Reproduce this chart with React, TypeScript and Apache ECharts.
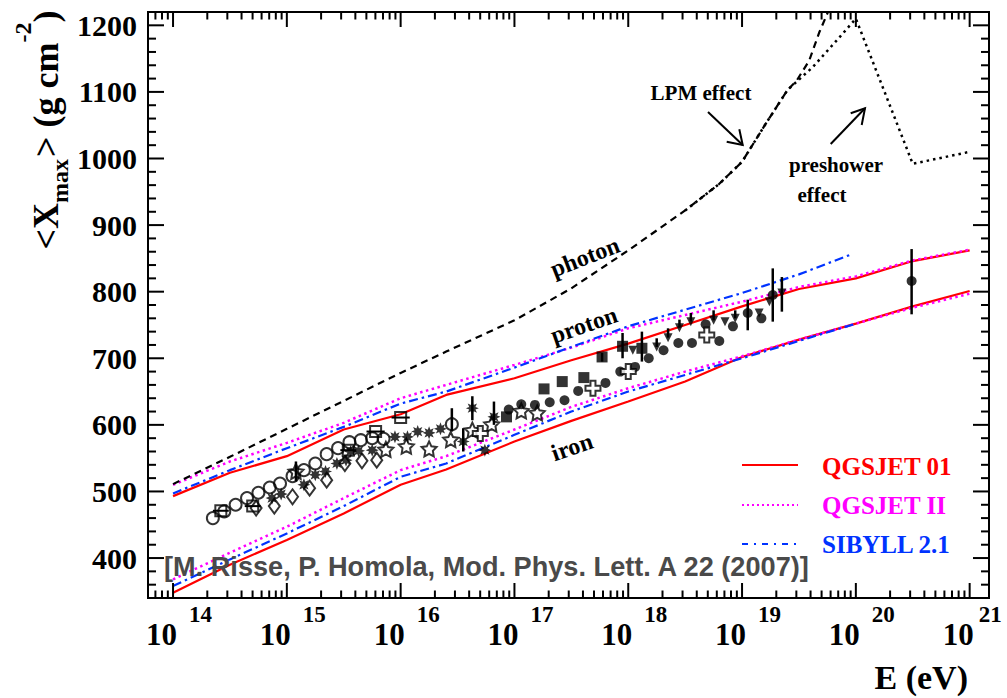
import React, { useEffect, useRef } from 'react';
import * as echarts from 'echarts';

// ---------- axis ranges & ticks ----------
const X_MIN = 13.78; // log10(E/eV)
const X_MAX = 21.17;
const Y_MIN = 340;
const Y_MAX = 1220;
const xDecades = [14, 15, 16, 17, 18, 19, 20, 21];
const yStep = 20;

// ---------- model curves (log10 E, <Xmax>) ----------
const qgs01Proton = [[14, 493], [14.5, 528], [15, 553], [15.5, 593], [16, 616], [16.4, 645], [17, 670], [17.5, 697], [18, 722], [18.5, 750], [19, 778], [19.5, 804], [20, 820], [20.5, 846], [21, 862]];
const qgs01Iron = [[14, 348], [14.5, 390], [15, 427], [15.5, 467], [16, 510], [16.4, 533], [17, 575], [17.5, 606], [18, 635], [18.5, 665], [19, 702], [19.5, 728], [20, 752], [20.5, 778], [21, 801]];
const qgs2Proton = [[14, 510], [14.5, 545], [15, 573], [15.5, 603], [16, 640], [16.4, 660], [17, 690], [17.5, 716], [18, 745], [18.5, 765], [19, 785], [19.5, 807], [20, 823], [20.5, 847], [21, 863]];
const qgs2Iron = [[14, 368], [14.5, 408], [15, 447], [15.5, 490], [16, 532], [16.4, 553], [17, 593], [17.5, 627], [18, 655], [18.5, 680], [19, 703], [19.5, 728], [20, 752], [20.5, 776], [21, 797]];
const sibProton = [[14, 497], [14.5, 532], [15, 565], [15.5, 597], [16, 632], [16.4, 650], [17, 686], [17.5, 717], [18, 748], [18.5, 773], [19, 798], [19.5, 826], [19.96, 856]];
const sibIron = [[14, 358], [14.5, 398], [15, 437], [15.5, 478], [16, 522], [16.4, 542], [17, 585], [17.5, 620], [18, 650], [18.5, 675], [19, 700], [19.5, 726], [20, 752]];
const photonLPM = [[14, 511], [14.5, 552], [15, 594], [15.5, 636], [16, 678], [16.4, 710], [17, 757], [17.5, 805], [18, 862], [18.5, 922], [18.8, 962], [19, 995], [19.2, 1050], [19.4, 1103], [19.48, 1117], [19.59, 1147], [19.68, 1190], [19.76, 1222]];
const photonPreshower = [[18.5, 922], [18.8, 962], [19, 995], [19.2, 1050], [19.4, 1103], [19.62, 1137], [19.83, 1177], [20, 1210], [20.5, 992], [21, 1010]];

// ---------- measurements ----------
const openCircles = [[14.35, 460], [14.45, 470], [14.55, 480], [14.65, 490], [14.75, 498], [14.85, 506], [14.94, 512], [15.05, 523], [15.15, 532], [15.25, 542], [15.35, 556], [15.45, 565], [15.55, 574], [15.65, 577], [15.75, 580], [15.85, 579], [16.45, 601]];
const openSquares = [[14.42, 471], [14.7, 478], [15.54, 562], [15.78, 590], [16.0, 611]];
const openDiamonds = [[14.73, 475], [14.89, 478], [15.05, 492], [15.2, 505], [15.35, 517], [15.51, 542], [15.66, 546], [15.79, 547]];
const openStars = [[15.08, 530], [15.87, 563], [16.05, 568], [16.25, 564], [16.44, 578], [16.63, 592], [16.8, 601], [17.06, 621], [17.2, 618]];
const asterisks = [[14.87, 490], [14.95, 496], [15.15, 510], [15.25, 525], [15.34, 530], [15.44, 542], [15.52, 547], [15.56, 560], [15.63, 561], [15.75, 562], [15.95, 582], [16.06, 582], [16.15, 590], [16.25, 588], [16.35, 594], [16.55, 575], [16.63, 625], [16.74, 562], [16.82, 612]];
const filledCircles = [[16.95, 623], [17.06, 631], [17.18, 630], [17.31, 634], [17.44, 637], [17.56, 651], [17.8, 663], [17.93, 680], [18.06, 687], [18.18, 700], [18.31, 712], [18.44, 723], [18.56, 723], [18.68, 751], [18.8, 726], [18.92, 748], [19.05, 768], [19.17, 760], [19.27, 795], [20.49, 816]];
const filledSquares = [[16.93, 612], [17.26, 654], [17.42, 665], [17.61, 671], [17.77, 702], [17.95, 718], [18.12, 715]];
const downTriangles = [[18.04, 712], [18.25, 717], [18.35, 731], [18.45, 746], [18.55, 755], [18.75, 757], [18.85, 755], [18.94, 760], [19.15, 768], [19.24, 785], [19.35, 798]];
const openCrosses = [[16.7, 587], [17.69, 655], [18.0, 680], [18.69, 735]];
// vertical error bars: [log10 E, low, high]
const errV = [[15.08, 515, 545], [16.45, 590, 625], [16.63, 607, 643], [16.55, 560, 595], [16.82, 600, 635], [17.95, 700, 738], [18.12, 695, 740], [19.05, 742, 788], [19.27, 755, 835], [19.35, 770, 822], [20.49, 766, 864], [18.25, 717, 730], [18.35, 731, 745], [18.45, 746, 758], [18.55, 755, 768], [18.75, 757, 772], [18.94, 760, 772], [17.77, 695, 708]];
// horizontal error bars: [log10 E, value, half width]
const errH = [[14.42, 471, 0.07], [14.7, 478, 0.07], [15.54, 562, 0.07], [15.78, 590, 0.08], [16.0, 611, 0.08]];

const SERIF = '"Liberation Serif", "Times New Roman", serif';
const RED = '#ff0000';
const MAGENTA = '#ff00ff';
const BLUE = '#0033ff';

const starPath = 'path://M0,-10 L2.9,-4 L9.5,-3.1 L4.8,1.5 L5.9,8.1 L0,5 L-5.9,8.1 L-4.8,1.5 L-9.5,-3.1 L-2.9,-4 Z';
const asteriskPath = 'path://M0,-10 L2,-4.8 L7.1,-7.1 L4.8,-2 L10,0 L4.8,2 L7.1,7.1 L2,4.8 L0,10 L-2,4.8 L-7.1,7.1 L-4.8,2 L-10,0 L-4.8,-2 L-7.1,-7.1 L-2,-4.8 Z';
const crossPath = 'path://M-1,-3 L1,-3 L1,-1 L3,-1 L3,1 L1,1 L1,3 L-1,3 L-1,1 L-3,1 L-3,-1 L-1,-1 Z';

function lineSeries(name: string, data: number[][], color: string, type: any, width: number) {
  return {
    type: 'line', name, data, symbol: 'none', silent: true, z: 3,
    lineStyle: { color, width, type },
  };
}

function scatter(data: number[][], symbol: string, size: any, open: boolean, extra: any = {}) {
  return {
    type: 'scatter', data, symbol, symbolSize: size, silent: true, z: 6,
    itemStyle: open
      ? { color: 'rgba(255,255,255,0)', borderColor: '#000', borderWidth: 2 }
      : { color: '#000', borderColor: '#000', borderWidth: 0 },
    ...extra,
  };
}

function textWidth(text: string, font: string): number {
  try {
    const t = new (echarts.graphic as any).Text({ style: { text, font } });
    return t.getBoundingRect().width;
  } catch (e) {
    return text.length * 14;
  }
}

export default function App() {
  const ref = useRef<HTMLDivElement>(null);
  useEffect(() => {
    if (!ref.current) return;
    const chart = echarts.init(ref.current, null, { renderer: 'svg' });

    const xTicks: number[][] = [];
    for (let n = 13; n <= 21; n++) {
      for (let k = 1; k <= 9; k++) {
        const L = n + Math.log10(k);
        if (L >= X_MIN - 1e-6 && L <= X_MAX) xTicks.push([L, Y_MIN, k === 1 ? 1 : 0]);
      }
    }
    const yTicks: number[][] = [];
    for (let v = Y_MIN; v <= Y_MAX; v += yStep) yTicks.push([X_MIN, v, v % 100 === 0 ? 1 : 0]);

    // y-axis title built from pieces (rotated group)
    const bigFont = `bold 36px ${SERIF}`;
    const smallFont = `bold 24px ${SERIF}`;
    const pieces = [
      { t: '<X', f: bigFont, dy: 0 },
      { t: 'max', f: smallFont, dy: 14 },
      { t: '> (g cm', f: bigFont, dy: 0 },
      { t: '-2', f: smallFont, dy: -23 },
      { t: ')', f: bigFont, dy: 0 },
    ];
    let cx = 0;
    const titleChildren = pieces.map((p) => {
      const el = { type: 'text', x: cx, y: p.dy, style: { text: p.t, font: p.f, fill: '#000', align: 'left', verticalAlign: 'middle' } };
      cx += textWidth(p.t, p.f) + (p.t === 'max' ? 2 : 0);
      return el;
    });
    const titleLen = cx;
    const titleCenterY = 130;

    const option: any = {
      animation: false,
      backgroundColor: '#fff',
      grid: { left: 148, right: 18, top: 12, bottom: 100, show: true, borderColor: '#000', borderWidth: 2, backgroundColor: 'transparent' },
      xAxis: {
        type: 'value', min: X_MIN, max: X_MAX,
        axisLabel: { show: false }, axisTick: { show: false }, axisLine: { show: false }, splitLine: { show: false },
      },
      yAxis: {
        type: 'value', min: Y_MIN, max: Y_MAX, interval: yStep,
        axisLabel: {
          formatter: (v: number) => (v % 100 === 0 ? String(v) : ''),
          fontFamily: SERIF, fontWeight: 'bold', fontSize: 30, color: '#000', margin: 11,
        },
        axisTick: { show: false }, axisLine: { show: false }, splitLine: { show: false },
      },
      series: [
        // axis ticks (x)
        {
          type: 'custom', silent: true, z: 8, data: xTicks,
          renderItem: (_p: any, api: any) => {
            const b = api.coord([api.value(0), Y_MIN]);
            const t = api.coord([api.value(0), Y_MAX]);
            const len = api.value(2) ? 15 : 7.5;
            return {
              type: 'group', children: [
                { type: 'line', shape: { x1: b[0], y1: b[1], x2: b[0], y2: b[1] - len }, style: { stroke: '#000', lineWidth: 2 } },
                { type: 'line', shape: { x1: t[0], y1: t[1], x2: t[0], y2: t[1] + len }, style: { stroke: '#000', lineWidth: 2 } },
              ],
            };
          },
        },
        // axis ticks (y)
        {
          type: 'custom', silent: true, z: 8, data: yTicks,
          renderItem: (_p: any, api: any) => {
            const l = api.coord([X_MIN, api.value(1)]);
            const r = api.coord([X_MAX, api.value(1)]);
            const len = api.value(2) ? 16 : 8;
            return {
              type: 'group', children: [
                { type: 'line', shape: { x1: l[0], y1: l[1], x2: l[0] + len, y2: l[1] }, style: { stroke: '#000', lineWidth: 2 } },
                { type: 'line', shape: { x1: r[0], y1: r[1], x2: r[0] - len, y2: r[1] }, style: { stroke: '#000', lineWidth: 2 } },
              ],
            };
          },
        },
        // x tick labels 10^n
        {
          type: 'custom', silent: true, z: 8, data: xDecades.map((n) => [n, Y_MIN]),
          renderItem: (_p: any, api: any) => {
            const n = api.value(0);
            const p = api.coord([n, Y_MIN]);
            const last = n === xDecades[xDecades.length - 1];
            return {
              type: 'group', children: [
                { type: 'text', x: p[0] + 4, y: p[1] + 36, style: { text: '10', fill: '#000', font: `bold 31px ${SERIF}`, align: 'right', verticalAlign: 'middle' } },
                { type: 'text', x: p[0] + (last ? 9 : 16), y: p[1] + 16, style: { text: String(n), fill: '#000', font: `bold 23px ${SERIF}`, align: 'left', verticalAlign: 'middle' } },
              ],
            };
          },
        },
        lineSeries('QGSJET 01 p', qgs01Proton, RED, 'solid', 2.2),
        lineSeries('QGSJET 01 Fe', qgs01Iron, RED, 'solid', 2.2),
        lineSeries('QGSJET II p', qgs2Proton, MAGENTA, [2.5, 3.5], 2.5),
        lineSeries('QGSJET II Fe', qgs2Iron, MAGENTA, [2.5, 3.5], 2.5),
        lineSeries('SIBYLL 2.1 p', sibProton, BLUE, [9, 4, 2.5, 4], 2.2),
        lineSeries('SIBYLL 2.1 Fe', sibIron, BLUE, [9, 4, 2.5, 4], 2.2),
        lineSeries('photon LPM', photonLPM, '#000', [7, 5], 2.2),
        lineSeries('photon preshower', photonPreshower, '#000', [2.5, 4], 2.5),
        // error bars
        {
          type: 'custom', silent: true, z: 5, data: errV,
          renderItem: (_p: any, api: any) => {
            const a = api.coord([api.value(0), api.value(1)]);
            const b = api.coord([api.value(0), api.value(2)]);
            return { type: 'line', shape: { x1: a[0], y1: a[1], x2: b[0], y2: b[1] }, style: { stroke: '#000', lineWidth: 2.5 } };
          },
        },
        {
          type: 'custom', silent: true, z: 5, data: errH,
          renderItem: (_p: any, api: any) => {
            const a = api.coord([api.value(0) - api.value(2), api.value(1)]);
            const b = api.coord([api.value(0) + api.value(2), api.value(1)]);
            return { type: 'line', shape: { x1: a[0], y1: a[1], x2: b[0], y2: b[1] }, style: { stroke: '#000', lineWidth: 2 } };
          },
        },
        scatter(openCircles, 'circle', 12, true),
        scatter(openSquares, 'rect', 11, true),
        scatter(openDiamonds, 'diamond', [11, 15], true),
        scatter(openStars, starPath, 15, true),
        scatter(asterisks, asteriskPath, 13, false),
        scatter(filledCircles, 'circle', 10, false),
        scatter(filledSquares, 'rect', 11, false),
        scatter(downTriangles, 'triangle', 9, false, { symbolRotate: 180 }),
        scatter(openCrosses, crossPath, 15, true, { itemStyle: { color: '#fff', borderColor: '#000', borderWidth: 2 } }),
      ],
      graphic: [
        // y title
        { type: 'group', x: 45.5, y: titleCenterY + titleLen / 2, rotation: Math.PI / 2, z: 10, children: titleChildren },
        // x title
        { type: 'text', x: 968, y: 677, z: 10, style: { text: 'E (eV)', font: `bold 34px ${SERIF}`, fill: '#000', align: 'right', verticalAlign: 'middle' } },
        // curve labels
        { type: 'text', x: 585, y: 257, rotation: 0.37, z: 10, style: { text: 'photon', font: `bold 24px ${SERIF}`, fill: '#000', align: 'center', verticalAlign: 'middle' } },
        { type: 'text', x: 584, y: 325, rotation: 0.33, z: 10, style: { text: 'proton', font: `bold 24px ${SERIF}`, fill: '#000', align: 'center', verticalAlign: 'middle' } },
        { type: 'text', x: 572, y: 447, rotation: 0.33, z: 10, style: { text: 'iron', font: `bold 24px ${SERIF}`, fill: '#000', align: 'center', verticalAlign: 'middle' } },
        { type: 'text', x: 701, y: 93, z: 10, style: { text: 'LPM effect', font: `bold 21px ${SERIF}`, fill: '#000', align: 'center', verticalAlign: 'middle' } },
        { type: 'text', x: 836, y: 165, z: 10, style: { text: 'preshower', font: `bold 21px ${SERIF}`, fill: '#000', align: 'center', verticalAlign: 'middle' } },
        { type: 'text', x: 822, y: 195, z: 10, style: { text: 'effect', font: `bold 21px ${SERIF}`, fill: '#000', align: 'center', verticalAlign: 'middle' } },
        // arrows
        { type: 'line', z: 10, shape: { x1: 708, y1: 112, x2: 742.7, y2: 145 }, style: { stroke: '#000', lineWidth: 2 } },
        { type: 'polyline', z: 10, shape: { points: [[726.7, 141.7], [742.7, 145], [739.3, 129.3]] }, style: { stroke: '#000', lineWidth: 2, fill: null } },
        { type: 'line', z: 10, shape: { x1: 830.7, y1: 144, x2: 865, y2: 108.3 }, style: { stroke: '#000', lineWidth: 2 } },
        { type: 'polyline', z: 10, shape: { points: [[850.7, 113.3], [865, 108.3], [861.7, 125]] }, style: { stroke: '#000', lineWidth: 2, fill: null } },
        // legend
        { type: 'line', z: 10, shape: { x1: 742, y1: 465, x2: 798, y2: 465 }, style: { stroke: RED, lineWidth: 2.2 } },
        { type: 'line', z: 10, shape: { x1: 742, y1: 505, x2: 798, y2: 505 }, style: { stroke: MAGENTA, lineWidth: 2, lineDash: [2, 3] } },
        { type: 'line', z: 10, shape: { x1: 742, y1: 544, x2: 798, y2: 544 }, style: { stroke: BLUE, lineWidth: 2, lineDash: [6, 6, 2, 6] } },
        { type: 'text', x: 822, y: 466, z: 10, style: { text: 'QGSJET 01', font: `bold 25px ${SERIF}`, fill: RED, align: 'left', verticalAlign: 'middle' } },
        { type: 'text', x: 822, y: 505, z: 10, style: { text: 'QGSJET II', font: `bold 25px ${SERIF}`, fill: MAGENTA, align: 'left', verticalAlign: 'middle' } },
        { type: 'text', x: 822, y: 544, z: 10, style: { text: 'SIBYLL 2.1', font: `bold 25px ${SERIF}`, fill: BLUE, align: 'left', verticalAlign: 'middle' } },
        // citation
        { type: 'text', x: 164, y: 566, z: 12, style: { text: '[M. Risse, P. Homola, Mod. Phys. Lett. A 22 (2007)]', font: 'bold 28px "Liberation Sans", sans-serif', fill: '#4a4a4a', align: 'left', verticalAlign: 'middle' }, scaleX: 0.97 },
      ],
    };
    chart.setOption(option);
    return () => chart.dispose();
  }, []);
  return <div ref={ref} style={{ position: 'absolute', left: 0, top: 0, width: 1007, height: 698 }} />;
}
